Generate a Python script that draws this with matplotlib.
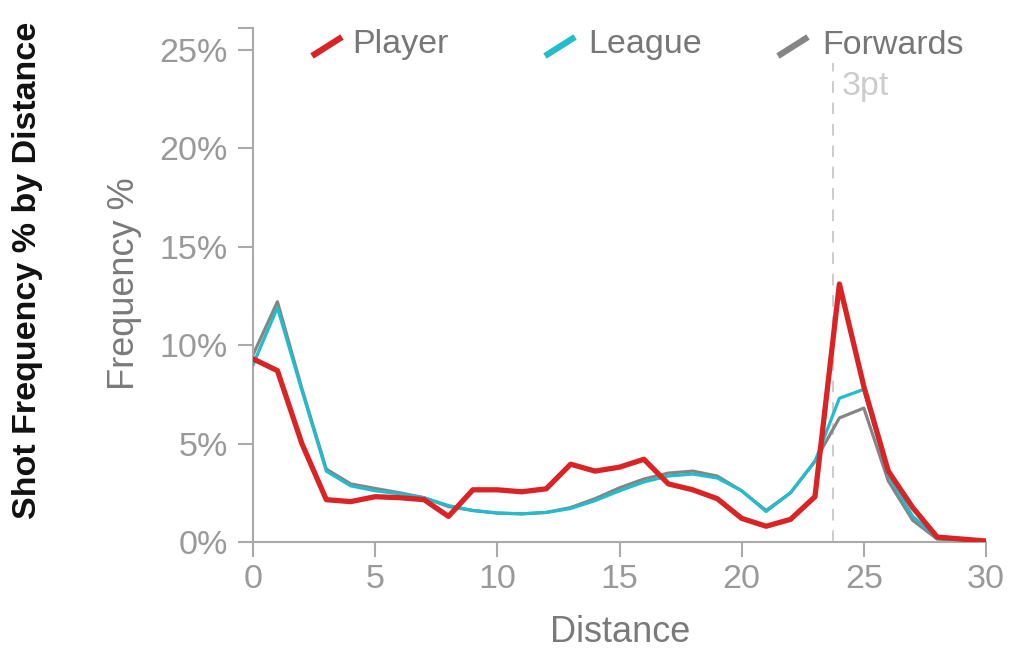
import matplotlib
matplotlib.use("Agg")
import matplotlib.pyplot as plt
from matplotlib.lines import Line2D

plt.rcParams['font.family'] = ['Liberation Sans', 'DejaVu Sans']

distance = list(range(0, 31))
player = [9.3, 8.7, 5.0, 2.15, 2.05, 2.3, 2.25, 2.15, 1.3, 2.65, 2.65, 2.55, 2.7, 3.95, 3.6, 3.8,
          4.2, 2.95, 2.65, 2.2, 1.2, 0.8, 1.15, 2.3, 13.1, 7.9, 3.6, 1.75, 0.25, 0.15, 0.05]
league = [9.0, 11.9, 7.7, 3.6, 2.85, 2.6, 2.45, 2.25, 1.85, 1.6, 1.47, 1.43, 1.5, 1.7, 2.1, 2.6,
          3.05, 3.35, 3.45, 3.25, 2.6, 1.55, 2.5, 4.1, 7.3, 7.75, 3.4, 1.3, 0.2, 0.1, 0.03]
forwards = [9.5, 12.2, 7.8, 3.7, 2.95, 2.72, 2.5, 2.25, 1.8, 1.6, 1.47, 1.43, 1.5, 1.75, 2.2, 2.75,
            3.2, 3.5, 3.6, 3.35, 2.6, 1.6, 2.5, 4.1, 6.3, 6.8, 3.1, 1.1, 0.15, 0.08, 0.02]
three_pt = 23.75
xticks = [0, 5, 10, 15, 20, 25, 30]
yticks = [0, 5, 10, 15, 20, 25]
ytick_labels = ['0%', '5%', '10%', '15%', '20%', '25%']
series_names = ['Player', 'League', 'Forwards']
colors = ['#d92324', '#21bccd', '#858585']

W, H = 1026, 663
fig = plt.figure(figsize=(W / 100, H / 100), dpi=100)
ax = fig.add_axes([253 / W, 1 - 542 / H, (986 - 253) / W, (542 - 28) / H])
ymax = 26.1
ax.set_xlim(0, 30)
ax.set_ylim(0, ymax)

ax.plot([three_pt, three_pt], [0, 24.3], color='#cccccc', lw=1.4, ls=(0, (6, 5)), zorder=1)
ax.plot(distance, forwards, color=colors[2], lw=2.3, solid_joinstyle='round', zorder=2)
ax.plot(distance, league, color=colors[1], lw=2.3, solid_joinstyle='round', zorder=3)
ax.plot(distance, player, color=colors[0], lw=3.8, solid_joinstyle='round',
        solid_capstyle='round', zorder=4)

for s in ['top', 'right']:
    ax.spines[s].set_visible(False)
for s in ['left', 'bottom']:
    ax.spines[s].set_color('#aaaaaa')
    ax.spines[s].set_linewidth(1.5)

ax.set_xticks(xticks)
ax.set_xticklabels([str(t) for t in xticks])
ax.set_yticks(yticks + [ymax])
ax.set_yticklabels(ytick_labels + [''])
ax.tick_params(axis='both', colors='#aaaaaa', width=1.5, length=11, labelsize=24.5,
               labelcolor='#999999', pad=5)
ax.tick_params(axis='y', pad=7)

fig.text(620 / W, 1 - 633 / H, 'Distance', fontsize=26, color='#7a7a7a',
         ha='center', va='center')
fig.text(125 / W, 1 - 284 / H, 'Frequency %', fontsize=26, color='#7a7a7a', rotation=90,
         ha='center', va='center')

fig.text(28 / W, 1 - 270 / H, 'Shot Frequency % by Distance', rotation=90, fontsize=24.5,
         fontweight='bold', color='#111111', ha='center', va='center')

ax.text(three_pt + 0.35, 23.9, '3pt', fontsize=24.5, color='#cccccc', ha='left', va='top')

leg_items = [(312, 352), (545, 588), (778, 822)]
for (mx, tx), name, c in zip(leg_items, series_names, colors):
    fig.add_artist(Line2D([mx / W, (mx + 30) / W], [1 - 56 / H, 1 - 37 / H], color=c,
                          lw=4.5, solid_capstyle='butt'))
    fig.text(tx / W, 1 - 45 / H, name, fontsize=24.5, color='#777777', ha='left', va='center')

fig.savefig('out.png', dpi=100)
